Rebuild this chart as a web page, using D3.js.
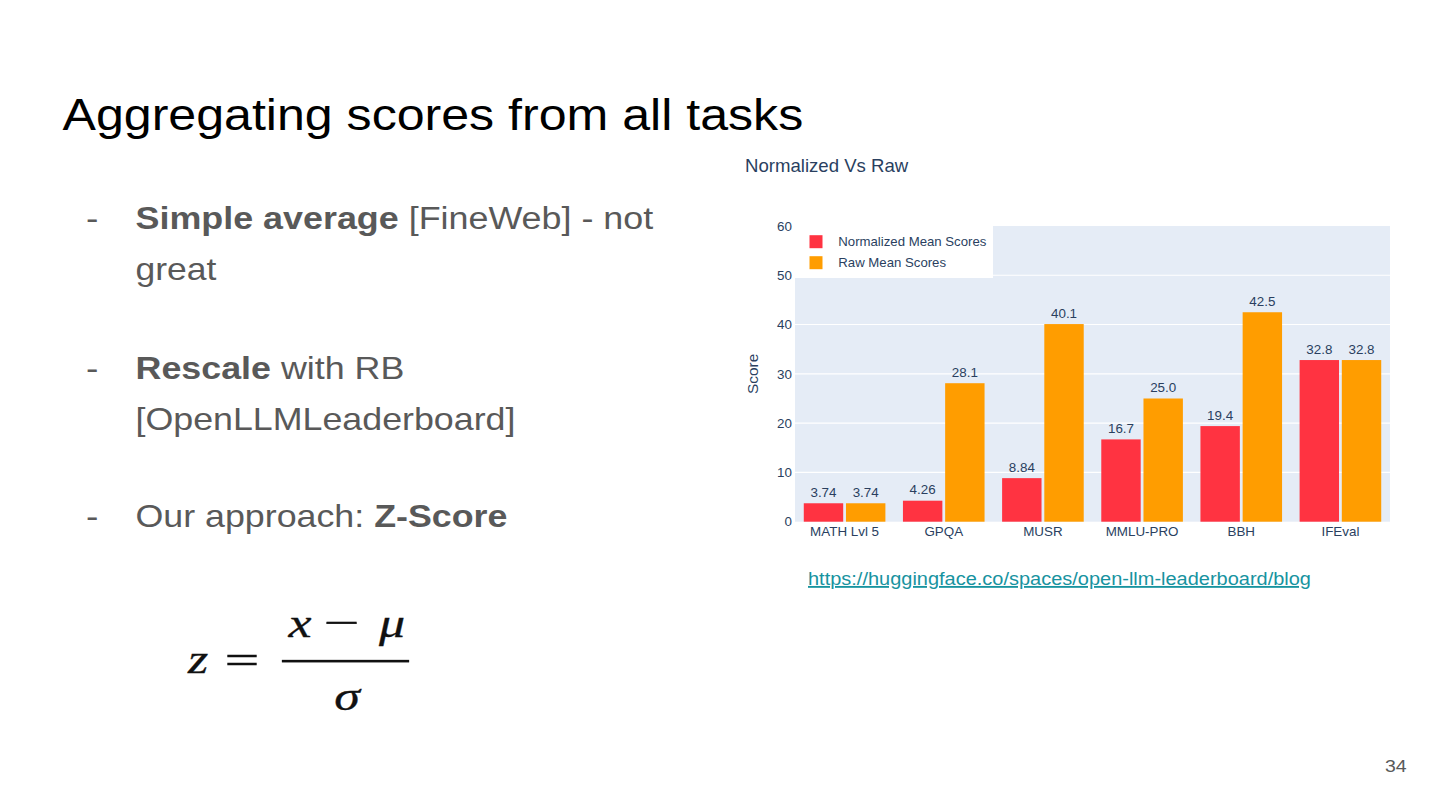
<!DOCTYPE html>
<html>
<head>
<meta charset="utf-8">
<script src="https://cdn.jsdelivr.net/npm/d3@7"></script>
<style>
  html, body { margin: 0; padding: 0; background: #fff; }
  svg { display: block; }
</style>
</head>
<body>
<svg id="slide" width="1440" height="810"></svg>
<script>
// ---------- data ----------
const categories = ["MATH Lvl 5", "GPQA", "MUSR", "MMLU-PRO", "BBH", "IFEval"];
const normalizedScores = [3.74, 4.26, 8.84, 16.7, 19.4, 32.8];
const rawScores = [3.74, 28.1, 40.1, 25.0, 42.5, 32.8];
const seriesNames = ["Normalized Mean Scores", "Raw Mean Scores"];
const yTicks = [0, 10, 20, 30, 40, 50, 60];
const slideTitle = "Aggregating scores from all tasks";
const chartTitle = "Normalized Vs Raw";
const yAxisTitle = "Score";
const linkText = "https://huggingface.co/spaces/open-llm-leaderboard/blog";
const pageNumber = "34";
const bullets = [
  [[{t: "Simple average", b: true}, {t: " [FineWeb] - not"}], [{t: "great"}]],
  [[{t: "Rescale", b: true}, {t: " with RB"}], [{t: "[OpenLLMLeaderboard]"}]],
  [[{t: "Our approach: "}, {t: "Z-Score", b: true}]]
];

// ---------- styles ----------
const SANS = "'Liberation Sans', Arial, Helvetica, sans-serif";
const SERIF = "'Liberation Serif', 'Times New Roman', serif";
const colors = ["#ff3341", "#ff9d00"];
const plotColor = "#2a3f5f";

const svg = d3.select("#slide");
svg.append("rect").attr("width", 1440).attr("height", 810).attr("fill", "#fff");

// helper: stretch text horizontally to target width
function stretch(sel, x, y, targetW) {
  const w = sel.node().getComputedTextLength();
  const sx = targetW / w;
  sel.attr("transform", `translate(${x},${y}) scale(${sx},1)`);
}

// ---------- slide title ----------
const t = svg.append("text")
  .attr("font-family", SANS).attr("font-size", 45).attr("fill", "#000")
  .text(slideTitle);
stretch(t, 62.5, 130, 741);

// ---------- bullets ----------
const lineBaselines = [[229, 280], [379, 430], [527]];
const lineWidths = [[518, 81], [269, 380], [372]];
bullets.forEach((b, i) => {
  svg.append("text")
    .attr("font-family", SANS).attr("font-size", 31).attr("fill", "#595959")
    .attr("transform", `translate(86,${lineBaselines[i][0]}) scale(1.2,1)`)
    .text("-");
  b.forEach((line, j) => {
    const tx = svg.append("text")
      .attr("font-family", SANS).attr("font-size", 31).attr("fill", "#595959")
      .style("white-space", "pre");
    line.forEach(seg => {
      tx.append("tspan").attr("font-weight", seg.b ? "bold" : "normal").text(seg.t);
    });
    stretch(tx, 135.5, lineBaselines[i][j], lineWidths[i][j]);
  });
});

// ---------- formula ----------
const fg = svg.append("g").attr("fill", "#111").attr("stroke", "#111").attr("stroke-width", 0.3);
function glyph(txt, cx, by, size, sx, italic) {
  fg.append("text")
    .attr("font-family", SERIF).attr("font-size", size)
    .attr("font-style", italic ? "italic" : "normal")
    .attr("text-anchor", "middle")
    .attr("transform", `translate(${cx},${by}) scale(${sx},1)`)
    .text(txt);
}
glyph("z", 198, 673, 40, 1.3, true);
glyph("=", 242, 674, 40, 1.55, false);
glyph("x", 300, 637, 40, 1.3, true);
glyph("\u2212", 341.5, 636, 40, 1.6, false);
glyph("\u03bc", 392, 637, 40, 1.3, true);
glyph("\u03c3", 347, 710, 40, 1.3, true);
fg.append("rect").attr("x", 282).attr("y", 660).attr("width", 127).attr("height", 2.2);

// ---------- chart ----------
const plot = {left: 795, right: 1390, top: 226, bottom: 521.7};

svg.append("text")
  .attr("x", 745).attr("y", 171.5)
  .attr("font-family", SANS).attr("font-size", 18.6).attr("fill", plotColor)
  .text(chartTitle);

svg.append("rect")
  .attr("x", plot.left).attr("y", plot.top)
  .attr("width", plot.right - plot.left).attr("height", plot.bottom - plot.top)
  .attr("fill", "#e5ecf6");

const y = d3.scaleLinear().domain([0, 60]).range([plot.bottom, plot.top]);
const x0 = d3.scaleBand().domain(categories).range([plot.left, plot.right])
  .paddingInner(0.177).paddingOuter(0.0885);
const x1 = d3.scaleBand().domain([0, 1]).range([0, x0.bandwidth()]).paddingInner(0.066);

// gridlines
svg.append("g").selectAll("line").data(yTicks.filter(v => v > 0 && v < 60)).join("line")
  .attr("x1", plot.left).attr("x2", plot.right)
  .attr("y1", d => y(d)).attr("y2", d => y(d))
  .attr("stroke", "#fff").attr("stroke-width", 1.1);

// y axis
const yAxis = svg.append("g")
  .attr("transform", `translate(${plot.left - 3},0)`)
  .call(d3.axisLeft(y).tickValues(yTicks).tickSize(0).tickPadding(0));
yAxis.select(".domain").remove();
yAxis.selectAll("text")
  .attr("font-family", SANS).attr("font-size", 13.4).attr("fill", plotColor);

// x axis
const xAxis = svg.append("g")
  .attr("transform", `translate(0,${plot.bottom})`)
  .call(d3.axisBottom(x0).tickSize(0).tickPadding(0));
xAxis.select(".domain").remove();
xAxis.selectAll("text")
  .attr("font-family", SANS).attr("font-size", 13.4).attr("fill", plotColor)
  .attr("dy", "1.1em");

// y title
svg.append("text")
  .attr("transform", `translate(757.5,${(plot.top + plot.bottom) / 2}) rotate(-90)`)
  .attr("text-anchor", "middle")
  .attr("font-family", SANS).attr("font-size", 15.4).attr("fill", plotColor)
  .text(yAxisTitle);

// bars
const series = [normalizedScores, rawScores];
const fmt = d3.format(".3r");
const groups = svg.append("g").selectAll("g").data(categories).join("g")
  .attr("transform", d => `translate(${x0(d)},0)`);
groups.selectAll("rect")
  .data((d, i) => series.map((s, k) => ({k, v: s[i]})))
  .join("rect")
  .attr("x", d => x1(d.k)).attr("width", x1.bandwidth())
  .attr("y", d => y(d.v)).attr("height", d => y(0) - y(d.v))
  .attr("fill", d => colors[d.k]);
groups.selectAll("text")
  .data((d, i) => series.map((s, k) => ({k, v: s[i]})))
  .join("text")
  .attr("x", d => x1(d.k) + x1.bandwidth() / 2)
  .attr("y", d => y(d.v) - 6.5)
  .attr("text-anchor", "middle")
  .attr("font-family", SANS).attr("font-size", 13.4).attr("fill", plotColor)
  .text(d => fmt(d.v));

// legend
const lg = svg.append("g");
lg.append("rect").attr("x", plot.left).attr("y", plot.top - 1)
  .attr("width", 198).attr("height", 53).attr("fill", "#fff");
const li = lg.selectAll("g").data(seriesNames).join("g")
  .attr("transform", (d, i) => `translate(0,${241.7 + i * 21})`);
li.append("rect").attr("x", 809.5).attr("y", -6.5).attr("width", 13).attr("height", 13)
  .attr("fill", (d, i) => colors[i]);
li.append("text").attr("x", 838.3).attr("y", 4.6)
  .attr("font-family", SANS).attr("font-size", 13.2).attr("fill", plotColor)
  .text(d => d);

// link
const lk = svg.append("text")
  .attr("font-family", SANS).attr("font-size", 18.5).attr("fill", "#17939f")
  .attr("text-decoration", "underline")
  .text(linkText);
stretch(lk, 808, 585, 503);

// page number
const pn = svg.append("text")
  .attr("font-family", SANS).attr("font-size", 17).attr("fill", "#595959")
  .text(pageNumber);
stretch(pn, 1385, 772.3, 21.7);
</script>
</body>
</html>
